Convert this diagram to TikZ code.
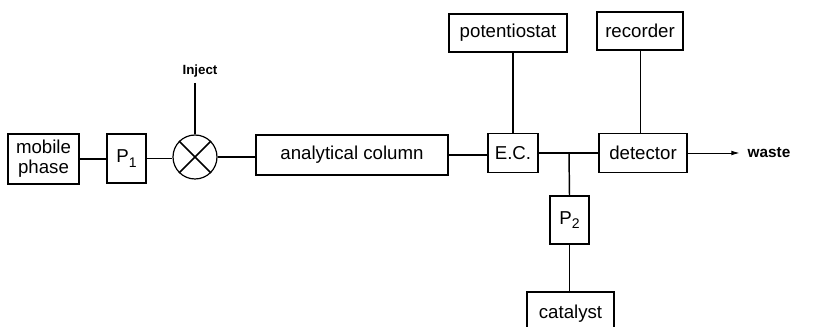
\documentclass[tikz,border=0pt]{standalone}
\usepackage{fontspec}
\setmainfont{Liberation Sans}
\usetikzlibrary{arrows.meta}
\begin{document}
\begin{tikzpicture}[x=0.75pt, y=-0.75pt,
  unit/.style={draw, line width=0.9pt, inner sep=0pt, align=center, font=\fontsize{14}{15}\selectfont},
  pipe/.style={line width=1.1pt},
  wire/.style={line width=0.6pt}]
\clip (0,0) rectangle (817,327);
\node[unit, minimum width=53.25pt, minimum height=37.5pt] (mob) at (43.5,159){mobile\\phase};
\node[unit, minimum width=29.25pt, minimum height=36.75pt] (p1) at (126.5,158.5){P\raisebox{-0.45ex}{\fontsize{10.5}{10}\selectfont 1}};
\node[circle, draw, line width=0.9pt, minimum size=33pt, inner sep=0pt] (inj) at (195,157){};
\draw[pipe](inj.45) -- (inj.225);
\draw[pipe](inj.135) -- (inj.-45);
\node[font=\bfseries\fontsize{10}{10}\selectfont] (injlbl) at (200,71){Inject};
\coordinate (injtop) at (195,83);
\node[unit, minimum width=144pt, minimum height=30pt] (col) at (352,155){analytical column};
\node[unit, minimum width=37.5pt, minimum height=29.25pt] (ec) at (513,153){E.C.};
\node[unit, minimum width=88.5pt, minimum height=28.5pt] (pot) at (508,33){potentiostat};
\node[unit, minimum width=64.5pt, minimum height=28.5pt] (rec) at (640,31){recorder};
\node[unit, minimum width=66pt, minimum height=29.25pt] (det) at (643,153){detector};
\coordinate (jn) at (569,153);
\node[unit, minimum width=29.25pt, minimum height=36pt] (p2) at (569.5,220){P\raisebox{-0.45ex}{\fontsize{10.5}{10}\selectfont 2}};
\node[unit, minimum width=65.25pt, minimum height=33pt] (cat) at (570.5,314){catalyst};
\node[font=\bfseries\fontsize{11.5}{12}\selectfont, inner sep=2pt] (waste) at (769,153){waste};
\draw[pipe](mob.east) -- (mob.east -| p1.west);
\draw[pipe](p1.east) -- (p1.east -| inj.west);
\draw[pipe](inj.east) -- (inj.east -| col.west);
\draw[pipe](col.east) -- (col.east -| ec.west);
\draw[pipe](ec) -- (det);
\draw[pipe](injtop) -- (inj.north);
\draw[pipe](pot.south -| ec.north) -- (ec.north);
\draw[pipe](jn) -- (p2.north);
\draw[wire](p2.south) -- (p2.south |- cat.north);
\draw[wire](rec.south) -- (rec.south |- det.north);
\draw[wire, -{Latex[length=6pt, width=3.5pt]}, shorten >=4pt](det.east) -- (waste.west);
\end{tikzpicture}
\end{document}
